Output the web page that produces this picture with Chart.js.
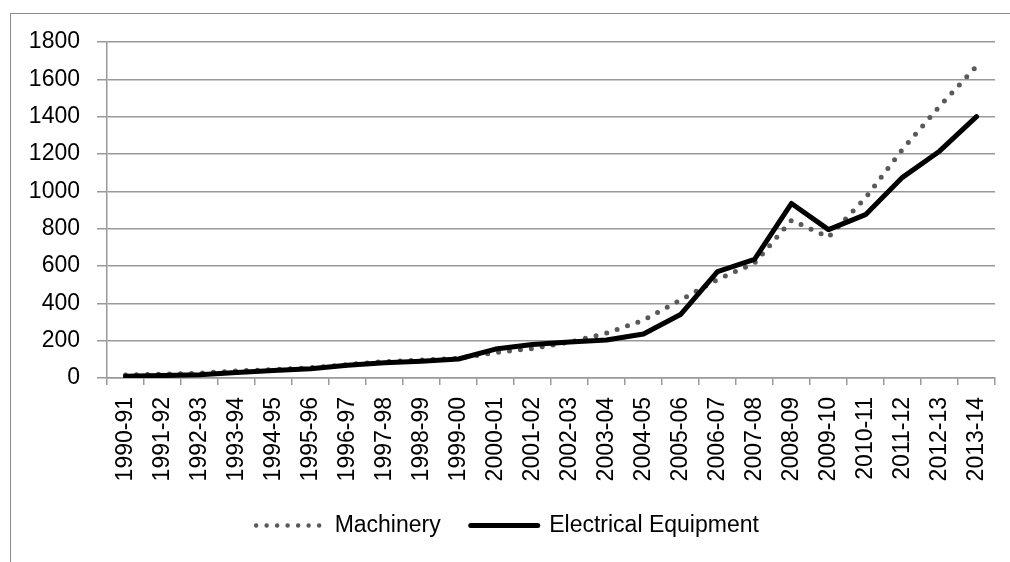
<!DOCTYPE html>
<html>
<head>
<meta charset="utf-8">
<style>
  body { margin: 0; background: #fff; overflow: hidden; }
  #wrap { position: relative; width: 1010px; height: 562px; }
  #frame { position: absolute; left: 10px; top: 13px; width: 1000px; height: 549px;
           border-top: 1px solid #8c8c8c; border-left: 1px solid #8c8c8c; box-sizing: border-box; }
  #tradeChart { position: absolute; left: 0; top: 0; }
</style>
</head>
<body>
<div id="wrap">
  <div id="frame"></div>
  <canvas id="tradeChart" width="1010" height="562"></canvas>
</div>
<script src="https://cdn.jsdelivr.net/npm/chart.js"></script>
<script>
const years = [
  "1990-91", "1991-92", "1992-93", "1993-94", "1994-95", "1995-96", "1996-97", "1997-98",
  "1998-99", "1999-00", "2000-01", "2001-02", "2002-03", "2003-04", "2004-05", "2005-06",
  "2006-07", "2007-08", "2008-09", "2009-10", "2010-11", "2011-12", "2012-13", "2013-14"
];

const machinery = [16, 20, 26, 38, 45, 55, 72, 88, 96, 106, 136, 158, 192, 240, 310, 418,
                   528, 615, 845, 755, 965, 1225, 1455, 1670];

const electrical = [10, 13, 18, 30, 40, 50, 68, 82, 90, 102, 155, 180, 193, 204, 236, 340,
                    570, 635, 935, 795, 875, 1075, 1215, 1400];

const yTicks = [0, 200, 400, 600, 800, 1000, 1200, 1400, 1600, 1800];

const font = { family: "'Liberation Sans', Arial, sans-serif", size: 23 };
const gridGrey = "#999999";

// nudge the legend row a little to the right, like the original
const legendNudge = {
  id: "legendNudge",
  afterLayout(chart) {
    chart.legend.left += 10;
    chart.legend.right += 10;
  }
};

const ctx = document.getElementById("tradeChart").getContext("2d");
new Chart(ctx, {
  type: "line",
  data: {
    labels: years,
    datasets: [
      {
        label: "Machinery",
        data: machinery,
        borderColor: "#595959",
        backgroundColor: "#595959",
        borderWidth: 5,
        borderDash: [0, 11],
        borderCapStyle: "round",
        borderJoinStyle: "round",
        pointRadius: 0,
        pointStyle: "line",
        fill: false,
        tension: 0,
        order: 1
      },
      {
        label: "Electrical Equipment",
        data: electrical,
        borderColor: "#000000",
        backgroundColor: "#000000",
        borderWidth: 5,
        borderCapStyle: "round",
        borderJoinStyle: "round",
        pointRadius: 0,
        pointStyle: "line",
        fill: false,
        tension: 0,
        order: 0
      }
    ]
  },
  options: {
    responsive: false,
    animation: false,
    devicePixelRatio: 1,
    layout: { padding: { left: 0, right: 15, top: 42, bottom: 15 } },
    plugins: {
      tooltip: { enabled: false },
      legend: {
        position: "bottom",
        labels: {
          usePointStyle: true,
          pointStyleWidth: 67,
          padding: 30,
          color: "#000",
          font: font,
          sort: (a, b) => a.datasetIndex - b.datasetIndex,
          generateLabels: (chart) => {
            const items = Chart.defaults.plugins.legend.labels.generateLabels(chart);
            items.forEach(item => {
              const ds = chart.data.datasets[item.datasetIndex];
              item.lineDash = ds.borderDash ? [0, 10.5] : [];
              item.lineCap = "round";
              item.lineWidth = ds.borderDash ? 4.5 : 5;
              item.strokeStyle = ds.borderColor;
            });
            return items;
          }
        }
      }
    },
    scales: {
      x: {
        offset: true,
        grid: { drawOnChartArea: false, offset: true, tickLength: 7, color: gridGrey, lineWidth: 1.5 },
        border: { color: gridGrey, width: 1.5 },
        ticks: { autoSkip: false, minRotation: 90, maxRotation: 90, padding: 12, color: "#000", font: font },
        afterFit: (scale) => {
          scale.height = 106;
          scale.paddingRight = 0;
          scale.paddingLeft = 0;
        }
      },
      y: {
        min: 0,
        max: 1800,
        afterBuildTicks: (scale) => { scale.ticks = yTicks.map(v => ({ value: v })); },
        grid: { color: gridGrey, lineWidth: 1.5, tickLength: 10 },
        border: { color: gridGrey, width: 1.5 },
        ticks: { padding: 17, color: "#000", font: font, callback: (v) => String(v) },
        afterFit: (scale) => { scale.width = 107; }
      }
    }
  },
  plugins: [legendNudge]
});
</script>
</body>
</html>
